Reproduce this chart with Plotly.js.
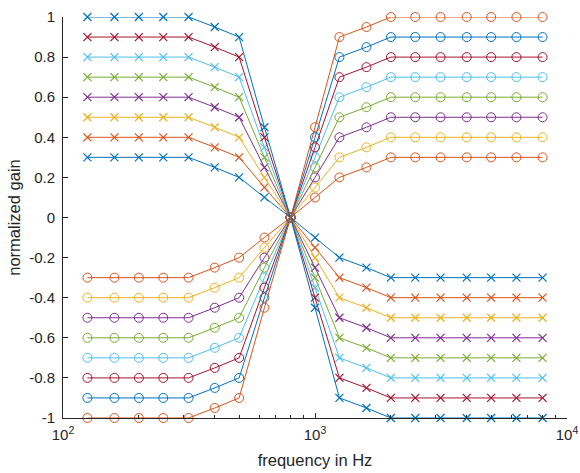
<!DOCTYPE html>
<html>
<head>
<meta charset="utf-8">
<script src="https://cdn.plot.ly/plotly-3.0.1.min.js"></script>
<style>html,body{margin:0;padding:0;background:#fff;}#chart{width:580px;height:473px;}</style>
</head>
<body>
<div id="chart"></div>
<script>
const freqs = [125,160,200,250,315,400,500,630,800,1000,1250,1600,2000,2500,3150,4000,5000,6300,8000];

// series with "x" markers (positive at low frequencies)
const x03 = [0.3,0.3,0.3,0.3,0.3,0.25,0.2,0.1,0,-0.1,-0.2,-0.25,-0.3,-0.3,-0.3,-0.3,-0.3,-0.3,-0.3];
const x04 = [0.4,0.4,0.4,0.4,0.4,0.35,0.3,0.15,0,-0.15,-0.3,-0.35,-0.4,-0.4,-0.4,-0.4,-0.4,-0.4,-0.4];
const x05 = [0.5,0.5,0.5,0.5,0.5,0.45,0.4,0.2,0,-0.2,-0.4,-0.45,-0.5,-0.5,-0.5,-0.5,-0.5,-0.5,-0.5];
const x06 = [0.6,0.6,0.6,0.6,0.6,0.55,0.5,0.25,0,-0.25,-0.5,-0.55,-0.6,-0.6,-0.6,-0.6,-0.6,-0.6,-0.6];
const x07 = [0.7,0.7,0.7,0.7,0.7,0.65,0.6,0.3,0,-0.3,-0.6,-0.65,-0.7,-0.7,-0.7,-0.7,-0.7,-0.7,-0.7];
const x08 = [0.8,0.8,0.8,0.8,0.8,0.75,0.7,0.35,0,-0.35,-0.7,-0.75,-0.8,-0.8,-0.8,-0.8,-0.8,-0.8,-0.8];
const x09 = [0.9,0.9,0.9,0.9,0.9,0.85,0.8,0.4,0,-0.4,-0.8,-0.85,-0.9,-0.9,-0.9,-0.9,-0.9,-0.9,-0.9];
const x10 = [1,1,1,1,1,0.95,0.9,0.45,0,-0.45,-0.9,-0.95,-1,-1,-1,-1,-1,-1,-1];

// series with "o" markers (negative at low frequencies)
const o03 = [-0.3,-0.3,-0.3,-0.3,-0.3,-0.25,-0.2,-0.1,0,0.1,0.2,0.25,0.3,0.3,0.3,0.3,0.3,0.3,0.3];
const o04 = [-0.4,-0.4,-0.4,-0.4,-0.4,-0.35,-0.3,-0.15,0,0.15,0.3,0.35,0.4,0.4,0.4,0.4,0.4,0.4,0.4];
const o05 = [-0.5,-0.5,-0.5,-0.5,-0.5,-0.45,-0.4,-0.2,0,0.2,0.4,0.45,0.5,0.5,0.5,0.5,0.5,0.5,0.5];
const o06 = [-0.6,-0.6,-0.6,-0.6,-0.6,-0.55,-0.5,-0.25,0,0.25,0.5,0.55,0.6,0.6,0.6,0.6,0.6,0.6,0.6];
const o07 = [-0.7,-0.7,-0.7,-0.7,-0.7,-0.65,-0.6,-0.3,0,0.3,0.6,0.65,0.7,0.7,0.7,0.7,0.7,0.7,0.7];
const o08 = [-0.8,-0.8,-0.8,-0.8,-0.8,-0.75,-0.7,-0.35,0,0.35,0.7,0.75,0.8,0.8,0.8,0.8,0.8,0.8,0.8];
const o09 = [-0.9,-0.9,-0.9,-0.9,-0.9,-0.85,-0.8,-0.4,0,0.4,0.8,0.85,0.9,0.9,0.9,0.9,0.9,0.9,0.9];
const o10 = [-1,-1,-1,-1,-1,-0.95,-0.9,-0.45,0,0.45,0.9,0.95,1,1,1,1,1,1,1];

const xSeries = [x03,x04,x05,x06,x07,x08,x09,x10];
const oSeries = [o03,o04,o05,o06,o07,o08,o09,o10];

const palette = ['#0072BD','#D95319','#EDB120','#7E2F8E','#77AC30','#4DBEEE','#A2142F'];

const yTickVals = [-1,-0.8,-0.6,-0.4,-0.2,0,0.2,0.4,0.6,0.8,1];
const yTickText = ['-1','-0.8','-0.6','-0.4','-0.2','0','0.2','0.4','0.6','0.8','1'];
const xTickVals = [100,1000,10000];
const xTickText = ['10<sup>2</sup>','10<sup>3</sup>','10<sup>4</sup>'];
const xMinorVals = [200,300,400,500,600,700,800,900,2000,3000,4000,5000,6000,7000,8000,9000];

const traces = [];
let ci = 0;
xSeries.forEach(function(s){
  const c = palette[ci % palette.length]; ci++;
  traces.push({x: freqs, y: s, type: 'scatter', mode: 'lines+markers', cliponaxis: false,
    line: {color: c, width: 1},
    marker: {symbol: 'x-thin-open', size: 8, color: c, line: {color: c, width: 1.2}},
    hoverinfo: 'skip'});
});
oSeries.forEach(function(s){
  const c = palette[ci % palette.length]; ci++;
  traces.push({x: freqs, y: s, type: 'scatter', mode: 'lines+markers', cliponaxis: false,
    line: {color: c, width: 1},
    marker: {symbol: 'circle-open', size: 9, color: c, line: {color: c, width: 1}},
    hoverinfo: 'skip'});
});

const axColor = '#262626';
const layout = {
  width: 580, height: 473,
  margin: {l: 63, r: 13, t: 17, b: 55, pad: 0},
  paper_bgcolor: '#fff', plot_bgcolor: '#fff',
  showlegend: false,
  font: {family: 'Liberation Sans, Arial, sans-serif', size: 15, color: axColor},
  xaxis: {
    type: 'log', range: [2, 4],
    showline: true, linecolor: axColor, linewidth: 1, mirror: false,
    showgrid: false, zeroline: false,
    ticks: 'inside', ticklen: 5, tickcolor: axColor, tickwidth: 1,
    tickmode: 'array', tickvals: xTickVals, ticktext: xTickText,
    tickfont: {size: 15, color: axColor},
    ticklabelstandoff: 3,
    minor: {tickmode: 'array', tickvals: xMinorVals, ticks: 'inside', ticklen: 3, tickcolor: axColor, showgrid: false},
    title: {text: 'frequency in Hz', font: {size: 16.5, color: axColor}, standoff: 12}
  },
  yaxis: {
    range: [-1, 1],
    showline: true, linecolor: axColor, linewidth: 1, mirror: false,
    showgrid: false, zeroline: false,
    ticks: 'inside', ticklen: 5, tickcolor: axColor, tickwidth: 1,
    tickmode: 'array', tickvals: yTickVals, ticktext: yTickText,
    tickfont: {size: 15, color: axColor},
    ticklabelstandoff: 4,
    title: {text: 'normalized gain', font: {size: 16.5, color: axColor}, standoff: 4}
  }
};

Plotly.newPlot('chart', traces, layout, {staticPlot: true, displayModeBar: false});
</script>
</body>
</html>
